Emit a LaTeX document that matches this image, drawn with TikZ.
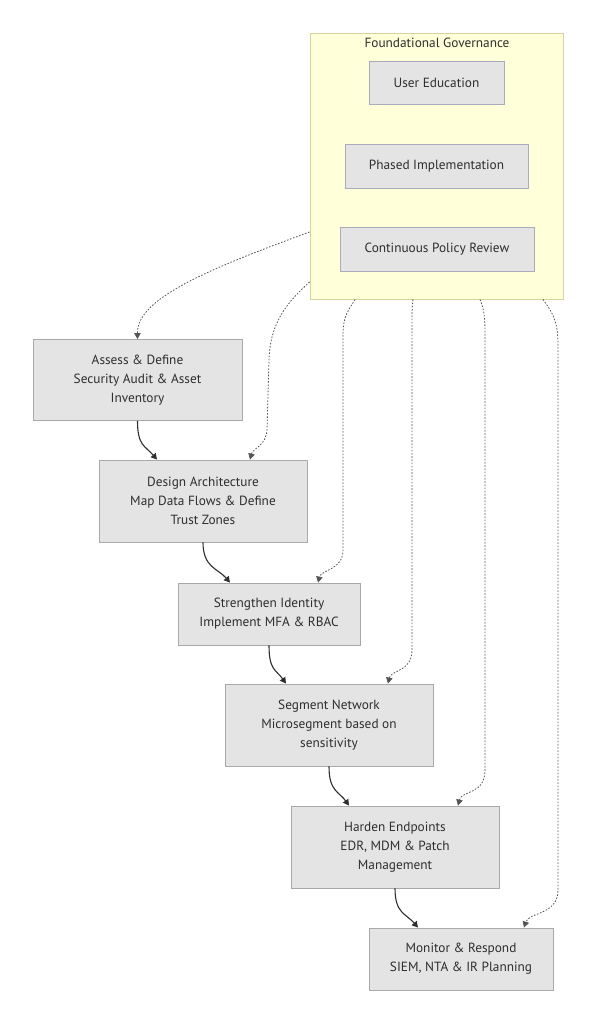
\documentclass[tikz,border=0pt]{standalone}
\usepackage{fontspec}
\setmainfont{PT Sans}
\usetikzlibrary{arrows.meta}
\definecolor{txt}{HTML}{2E2E2E}
\definecolor{boxfill}{HTML}{E4E4E4}
\definecolor{boxdraw}{HTML}{A9A9A9}
\definecolor{innerdraw}{HTML}{ABABBE}
\definecolor{govfill}{HTML}{FFFFD9}
\definecolor{govdraw}{HTML}{D4D49E}
\definecolor{dotline}{HTML}{555555}
\tikzset{
  stepbox/.style={draw=boxdraw, fill=boxfill, line width=0.9pt, text=txt, align=center,
    font=\fontsize{13.3}{19}\selectfont, inner sep=0pt},
  innerbox/.style={stepbox, draw=innerdraw},
  govbox/.style={draw=govdraw, fill=govfill, line width=0.9pt, inner sep=0pt},
  flow/.style={draw=txt, line width=1.1pt, -{Triangle[length=6pt,width=6.5pt]}},
  dep/.style={draw=dotline, line width=0.8pt, dash pattern=on 1.6pt off 1.6pt,
    -{Triangle[length=6pt,width=6.5pt]}},
}
\begin{document}
\begin{tikzpicture}[x=1pt,y=-1pt]
\useasboundingbox (0,0) rectangle (597,1024);
% governance group
\node[govbox, minimum width=253pt, minimum height=266pt] (gov) at (436.5,166) {};
\node[text=txt, font=\fontsize{13.3}{15}\selectfont] (govtitle) at (437,43) {Foundational Governance};
\node[innerbox, minimum width=135pt, minimum height=43pt] (edu) at (436.5,82.5) {User Education};
\node[innerbox, minimum width=183pt, minimum height=44pt] (phase) at (436.5,166) {Phased Implementation};
\node[innerbox, minimum width=194pt, minimum height=44pt] (review) at (437,249) {Continuous Policy Review};
% steps
\node[stepbox, minimum width=209pt, minimum height=81pt] (assess) at (137.5,380) {Assess \& Define\\Security Audit \& Asset\\Inventory};
\node[stepbox, minimum width=208pt, minimum height=82pt] (design) at (203,501) {Design Architecture\\Map Data Flows \& Define\\Trust Zones};
\node[stepbox, minimum width=182pt, minimum height=62pt] (ident) at (269,614) {Strengthen Identity\\Implement MFA \& RBAC};
\node[stepbox, minimum width=208pt, minimum height=82pt] (segment) at (329,725) {Segment Network\\Microsegment based on\\sensitivity};
\node[stepbox, minimum width=208pt, minimum height=82pt] (harden) at (395,847) {Harden Endpoints\\EDR, MDM \& Patch\\Management};
\node[stepbox, minimum width=184pt, minimum height=62pt] (monitor) at (461,959) {Monitor \& Respond\\SIEM, NTA \& IR Planning};
% main flow
\draw[flow] (assess.south) .. controls +(0,25) and +(-12,-14) .. ([xshift=-46pt]design.north);
\draw[flow] (design.south) .. controls +(0,25) and +(-12,-14) .. ([xshift=-39pt]ident.north);
\draw[flow] (ident.south) .. controls +(0,25) and +(-10,-14) .. ([xshift=-43pt]segment.north);
\draw[flow] (segment.south) .. controls +(0,25) and +(-10,-14) .. ([xshift=-46pt]harden.north);
\draw[flow] (harden.south) .. controls +(0,25) and +(-12,-14) .. ([xshift=-43pt]monitor.north);
% governance dependencies
\draw[dep] ([yshift=-66pt]gov.west) .. controls (200,272) and (137,300) .. (assess.north);
\draw[dep] ([yshift=-116pt]gov.west) .. controls (290,300) and (270,320) .. (269,360) -- (267,430) .. controls (266,446) and (253,448) .. ([xshift=47pt]design.north);
\draw[dep] ([xshift=-81.5pt]gov.south) .. controls (349,310) and (343,315) .. (343,335) -- (343,550) .. controls (343,570) and (321,570) .. ([xshift=49pt]ident.north);
\draw[dep] ([xshift=-23.5pt]gov.south) .. controls (412,308) and (412,312) .. (412,325) -- (412,650) .. controls (412,672) and (391,670) .. ([xshift=59pt]segment.north);
\draw[dep] ([xshift=43.5pt]gov.south) .. controls (484,310) and (485,315) .. (485,335) -- (485,770) .. controls (485,795) and (462,790) .. ([xshift=63pt]harden.north);
\draw[dep] ([xshift=106.5pt]gov.south) .. controls (552,312) and (558,320) .. (558,345) -- (558,890) .. controls (558,915) and (529,912) .. ([xshift=63pt]monitor.north);
\end{tikzpicture}
\end{document}
